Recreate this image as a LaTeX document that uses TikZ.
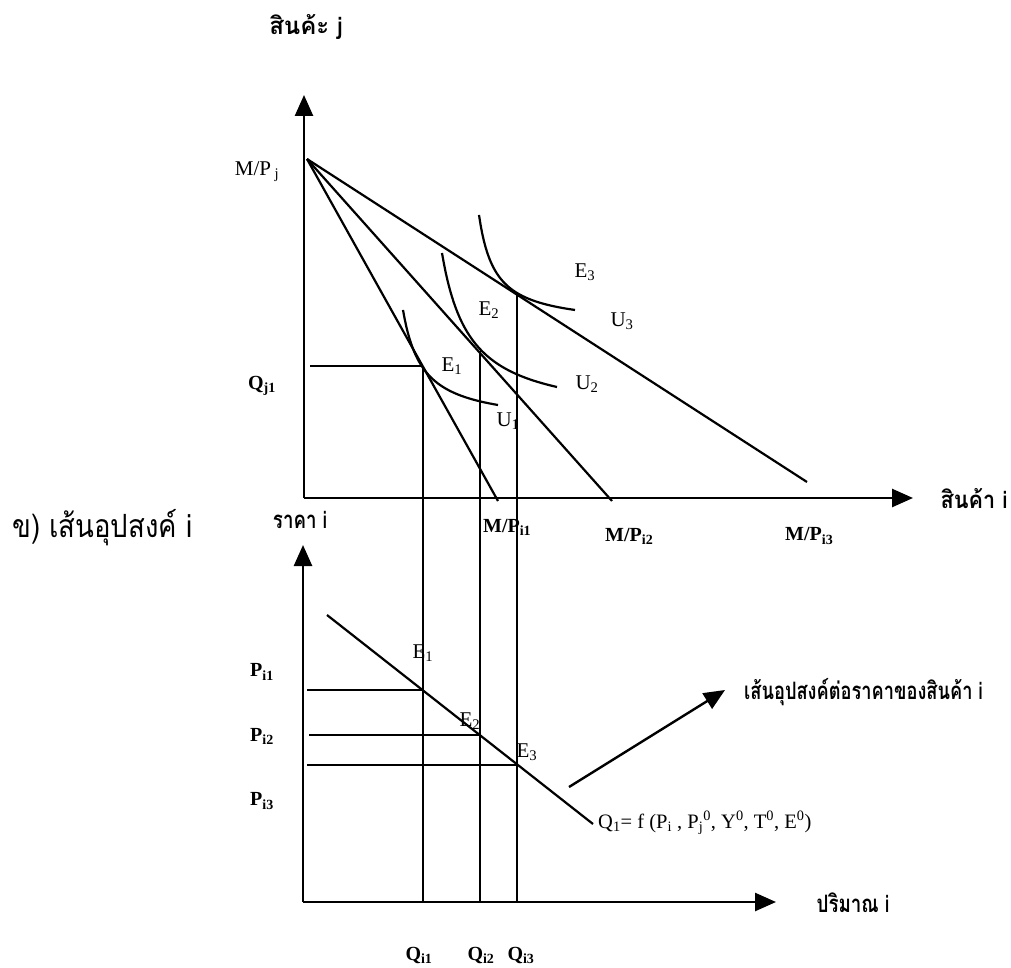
\documentclass[tikz,border=0pt]{standalone}
\usepackage{fontspec}
\usepackage{graphicx}
\setmainfont{Liberation Serif}
\newfontfamily\thaifont[Script=Thai]{Loma}
\usetikzlibrary{arrows.meta}
\newcommand\lsub[1]{\textsubscript{#1}}
\newcommand\lsup[1]{\textsuperscript{#1}}
\newcommand\thx[2]{\scalebox{#1}[1]{#2}}
\tikzset{
  axisline/.style={line width=2.6pt, -{Triangle[length=21pt,width=18pt]}},
  ptr/.style={line width=2.4pt, -{Triangle[length=21pt,width=18pt]}},
  ln/.style={line width=2.2pt},
  crv/.style={line width=2.2pt},
  lbl/.style={font=\fontsize{21}{21}\selectfont, inner sep=0pt},
  blbl/.style={font=\bfseries\fontsize{20}{20}\selectfont, inner sep=0pt},
  thb/.style={font=\thaifont\bfseries\fontsize{24}{24}\selectfont, inner sep=0pt},
}
\begin{document}
\begin{tikzpicture}[x=1pt,y=-1pt]
\useasboundingbox (0,0) rectangle (1011,968);
% ---------- top panel ----------
\coordinate (O) at (304,498);
\coordinate (Ytop) at (304,95);
\coordinate (Xend) at (913,498);
\draw[axisline] (O) -- (Ytop);
\draw[axisline] (O) -- (Xend);
\coordinate (V) at (307,159);
\coordinate (B1) at (498,501);
\coordinate (B2) at (612,501);
\coordinate (B3) at (807,482);
\draw[ln] (V) -- (B1);
\draw[ln] (V) -- (B2);
\draw[ln] (V) -- (B3);
% indifference curves
\draw[crv] plot[domain=403:498, samples=60] (\x, {424.5-2233.7/(\x-383.5)});
\draw[crv] plot[domain=442:557, samples=60] (\x, {419.5-4644.9/(\x-414.1)});
\draw[crv] plot[domain=479:575, samples=60] (\x, {325.8-1773.5/(\x-463.0)});
% equilibrium points
\coordinate (E1t) at (423,366);
\coordinate (E2t) at (480,351);
\coordinate (E3t) at (517,294);
\coordinate (Qj) at (310,366);
\draw[ln] (Qj) -- (E1t);
% ---------- bottom panel ----------
\coordinate (O2) at (303,902);
\coordinate (Y2top) at (303,545);
\coordinate (X2end) at (776,902);
\draw[axisline] (O2) -- (Y2top);
\draw[axisline] (O2) -- (X2end);
\coordinate (D0) at (327,615);
\coordinate (D1) at (593,824);
\draw[ln] (D0) -- (D1);
\coordinate (E1b) at (423,690);
\coordinate (E2b) at (480,735);
\coordinate (E3b) at (517,765);
\coordinate (Q1b) at (423,902);
\coordinate (Q2b) at (480,902);
\coordinate (Q3b) at (517,902);
\draw[ln] (E1t) -- (Q1b);
\draw[ln] (E2t) -- (Q2b);
\draw[ln] (E3t) -- (Q3b);
\coordinate (P1s) at (307,690);
\coordinate (P2s) at (309,735);
\coordinate (P3s) at (307,765);
\draw[ln] (P1s) -- (E1b);
\draw[ln] (P2s) -- (E2b);
\draw[ln] (P3s) -- (E3b);
\coordinate (A0) at (569,787);
\coordinate (A1) at (725,690);
\draw[ptr] (A0) -- (A1);
% ---------- labels ----------
\node[thb] (tj) at (306,27) {สินค้ะ j};
\node[lbl] (mpj) at (257,172) {M/P\,\lsub{j}};
\node[blbl] (qj1) at (262,386) {Q\lsub{j1}};
\node[lbl] (le1) at (452,366) {E\lsub{1}};
\node[lbl] (le2) at (489,310) {E\lsub{2}};
\node[lbl] (le3) at (585,272) {E\lsub{3}};
\node[lbl] (lu1) at (508,421) {U\lsub{1}};
\node[lbl] (lu2) at (587,384) {U\lsub{2}};
\node[lbl] (lu3) at (622,321) {U\lsub{3}};
\node[thb] (ti) at (974,499) {\thx{0.9}{สินค้า i}};
\node[blbl, anchor=west] (mpi1) at (483,527) {M/P\lsub{i1}};
\node[blbl, anchor=west] (mpi2) at (605,536) {M/P\lsub{i2}};
\node[blbl, anchor=west] (mpi3) at (785,536) {M/P\lsub{i3}};
\node[font=\thaifont\fontsize{32}{32}\selectfont, inner sep=0pt, anchor=west] (kh) at (12,528) {\thx{0.86}{ข) เส้นอุปสงค์ i}};
\node[thb] (price) at (300,520) {\thx{0.78}{ราคา i}};
\node[blbl] (pi1) at (262,672) {P\lsub{i1}};
\node[blbl] (pi2) at (262,736) {P\lsub{i2}};
\node[blbl] (pi3) at (262,801) {P\lsub{i3}};
\node[lbl] (be1) at (423,653) {E\lsub{1}};
\node[lbl] (be2) at (470,721) {E\lsub{2}};
\node[lbl] (be3) at (527,752) {E\lsub{3}};
\node[thb, anchor=west] (curve) at (744,692) {\thx{0.76}{เส้นอุปสงค์ต่อราคาของสินค้า i}};
\node[lbl, anchor=west, font=\fontsize{20.5}{20.5}\selectfont] (fq) at (598,823) {Q\lsub{1}= f (P\lsub{i} , P\lsub{j}\lsup{0}, Y\lsup{0}, T\lsup{0}, E\lsup{0})};
\node[thb] (qty) at (853,903) {\thx{0.78}{ปริมาณ i}};
\node[blbl] (qi1) at (419,955) {Q\lsub{i1}};
\node[blbl] (qi2) at (481,955) {Q\lsub{i2}};
\node[blbl] (qi3) at (521,955) {Q\lsub{i3}};
\end{tikzpicture}
\end{document}
